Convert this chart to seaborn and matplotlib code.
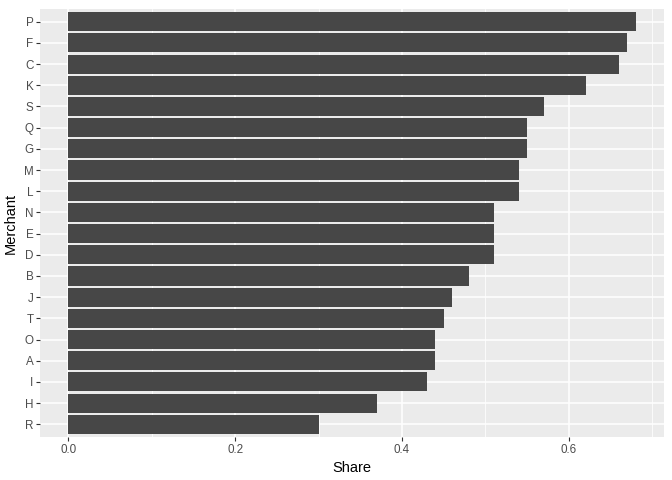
import matplotlib
matplotlib.use("Agg")
import matplotlib.pyplot as plt
import seaborn as sns
import pandas as pd
from matplotlib.ticker import MultipleLocator

# data, sorted as drawn (top to bottom)
merchants = ["P", "F", "C", "K", "S", "Q", "G", "M", "L", "N",
             "E", "D", "B", "J", "T", "O", "A", "I", "H", "R"]
shares = [0.68, 0.67, 0.66, 0.62, 0.57, 0.55, 0.55, 0.54, 0.54, 0.51,
          0.51, 0.51, 0.48, 0.46, 0.45, 0.44, 0.44, 0.43, 0.37, 0.30]

df = pd.DataFrame({"Merchant": merchants, "Share": shares})

sns.set_theme(style="darkgrid", rc={
    "axes.facecolor": "#EBEBEB",
    "grid.color": "white",
    "axes.edgecolor": "#EBEBEB",
})
plt.rcParams["font.family"] = ["Liberation Sans", "DejaVu Sans"]

fig = plt.figure(figsize=(6.72, 4.8), dpi=100)
ax = fig.add_axes([40 / 672, 1 - 437 / 480, 624 / 672, 428 / 480])

sns.barplot(data=df, x="Share", y="Merchant", order=merchants,
            color="#474747", saturation=1, width=0.9, linewidth=0,
            ax=ax, zorder=3)

n = len(merchants)
ax.set_ylim(n - 1 + 0.6, -0.6)
ax.set_xlim(-0.034, 0.714)
ax.xaxis.set_minor_locator(MultipleLocator(0.1))
ax.set_xticks([0.0, 0.2, 0.4, 0.6])
ax.set_xticklabels(["0.0", "0.2", "0.4", "0.6"])

ax.grid(which="major", color="white", linewidth=1.1, zorder=0)
ax.grid(which="minor", axis="x", color="white", linewidth=0.55, zorder=0)
ax.set_axisbelow(True)
for s in ax.spines.values():
    s.set_visible(False)

ax.tick_params(axis="both", which="major", bottom=True, left=True,
               length=2.7, width=0.8, color="#333333",
               labelcolor="#4D4D4D", labelsize=8.4, pad=2)
ax.tick_params(axis="both", which="minor", length=0)

ax.set_xlabel("Share", fontsize=10.5, color="black", labelpad=4)
ax.set_ylabel("Merchant", fontsize=10.5, color="black", labelpad=4)

fig.savefig("out.png", dpi=100)
